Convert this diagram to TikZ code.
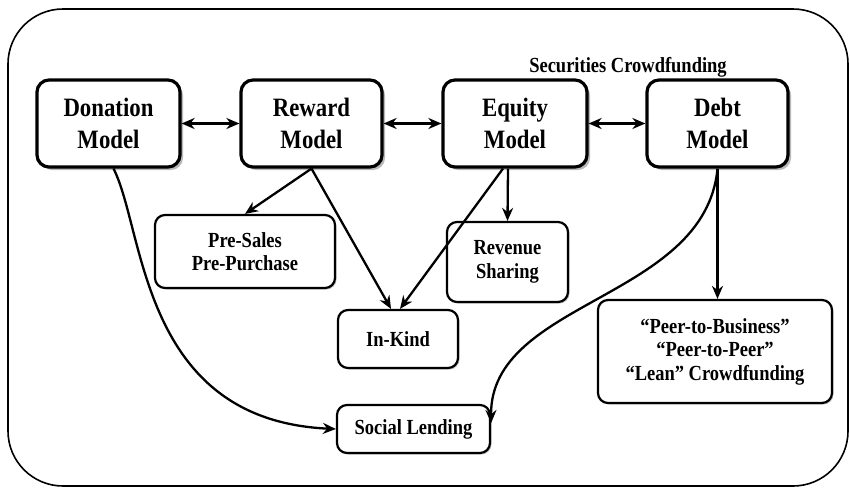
\documentclass[tikz,border=0pt]{standalone}
\usepackage{fontspec}
\setmainfont{Liberation Serif}[FakeStretch=0.86,Ligatures=TeX]
\usetikzlibrary{shadows,arrows.meta,calc}
\begin{document}
\begin{tikzpicture}[x=1pt,y=-1pt,
  mainbox/.style={draw=black,line width=3.2pt,rounded corners=12pt,fill=white,inner sep=0pt,
    minimum height=87pt,align=center,font=\rmfamily\bfseries\fontsize{26.5}{32}\selectfont,
    drop shadow={shadow xshift=3pt,shadow yshift=-3pt,fill=gray!55,opacity=1}},
  subbox/.style={draw=black,line width=2.2pt,rounded corners=10pt,fill=white,inner sep=0pt,
    align=center,font=\rmfamily\bfseries\fontsize{21.5}{23.5}\selectfont,
    drop shadow={shadow xshift=1.5pt,shadow yshift=-1.5pt,fill=gray!45,opacity=1}},
  conn/.style={line width=2.3pt,-{Stealth[length=13pt,width=11pt]}},
  dconn/.style={line width=2.3pt,{Stealth[length=13pt,width=11pt]}-{Stealth[length=13pt,width=11pt]}}
]
\useasboundingbox (0,0) rectangle (850,488);
\draw[line width=1.6pt,rounded corners=55pt] (8,9) rectangle (848,486);

\node[mainbox,minimum width=143pt] (don) at (108.5,123.5) {Donation\\Model};
\node[mainbox,minimum width=141pt] (rew) at (311.5,123.5) {Reward\\Model};
\node[mainbox,minimum width=144pt] (equ) at (515,123.5) {Equity\\Model};
\node[mainbox,minimum width=141pt] (deb) at (717.5,123.5) {Debt\\Model};
\node[font=\rmfamily\bfseries\fontsize{21.5}{22}\selectfont] (sec) at (628,67) {Securities Crowdfunding};

\node[subbox,minimum width=180pt,minimum height=73pt] (pre) at (245,251.5) {Pre-Sales\\Pre-Purchase};
\node[subbox,minimum width=121pt,minimum height=80pt] (rev) at (507.5,262) {Revenue\\Sharing};
\node[subbox,minimum width=120pt,minimum height=58pt] (ink) at (398,339) {In-Kind};
\node[subbox,minimum width=153pt,minimum height=48pt] (soc) at (413.5,429) {Social Lending};
\node[subbox,minimum width=234pt,minimum height=103pt] (peer) at (715,351.5) {“Peer-to-Business”\\“Peer-to-Peer”\\“Lean” Crowdfunding};

\draw[dconn] (don.east) -- (rew.west);
\draw[dconn] (rew.east) -- (equ.west);
\draw[dconn] (equ.east) -- (deb.west);

\draw[conn] (rew.south) -- (pre.north);
\draw[conn] (rew.south) -- ([xshift=-7pt]ink.north);
\draw[conn] ([xshift=-12pt]equ.south) -- ([xshift=2pt]ink.north);
\draw[conn] ([xshift=-7pt]equ.south) -- ([xshift=0pt]rev.north);
\draw[conn] (deb.south) -- (deb.south |- peer.north);
\draw[conn] (deb.south) .. controls (705,300) and (490,300) .. ([yshift=6pt]soc.east);
\draw[conn] ([xshift=5pt]don.south) .. controls (145,230) and (140,420) .. (soc.west);
\end{tikzpicture}
\end{document}
